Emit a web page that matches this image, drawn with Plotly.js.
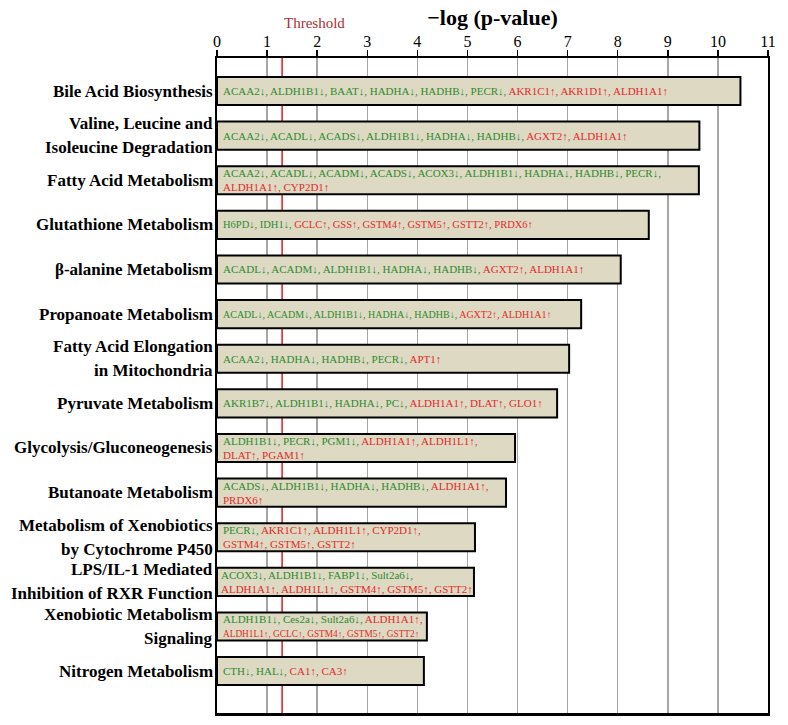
<!DOCTYPE html>
<html>
<head>
<meta charset="utf-8">
<script src="https://cdn.plot.ly/plotly-3.0.1.min.js"></script>
<style>
  body { margin: 0; background: #fff; }
  #chart { width: 788px; height: 725px; }
</style>
</head>
<body>
<div id="chart"></div>
<script>
let pathways = [
    "Bile Acid Biosynthesis",
    "Valine, Leucine and<br>Isoleucine Degradation",
    "Fatty Acid Metabolism",
    "Glutathione Metabolism",
    "β-alanine Metabolism",
    "Propanoate Metabolism",
    "Fatty Acid Elongation<br>in Mitochondria",
    "Pyruvate Metabolism",
    "Glycolysis/Gluconeogenesis",
    "Butanoate Metabolism",
    "Metabolism of Xenobiotics<br>by Cytochrome P450",
    "LPS/IL-1 Mediated<br>Inhibition of RXR Function",
    "Xenobiotic Metabolism<br>Signaling",
    "Nitrogen Metabolism"
];

let logP = [10.45, 9.63, 9.62, 8.62, 8.06, 7.27, 7.03, 6.79, 5.95, 5.77, 5.15, 5.13, 4.19, 4.13];

let genes = [
    ["ACAA2↓", "ALDH1B1↓", "BAAT↓", "HADHA↓", "HADHB↓", "PECR↓", "AKR1C1↑", "AKR1D1↑", "ALDH1A1↑"],
    ["ACAA2↓", "ACADL↓", "ACADS↓", "ALDH1B1↓", "HADHA↓", "HADHB↓", "AGXT2↑", "ALDH1A1↑"],
    ["ACAA2↓", "ACADL↓", "ACADM↓", "ACADS↓", "ACOX3↓", "ALDH1B1↓", "HADHA↓", "HADHB↓", "PECR↓", "ALDH1A1↑", "CYP2D1↑"],
    ["H6PD↓", "IDH1↓", "GCLC↑", "GSS↑", "GSTM4↑", "GSTM5↑", "GSTT2↑", "PRDX6↑"],
    ["ACADL↓", "ACADM↓", "ALDH1B1↓", "HADHA↓", "HADHB↓", "AGXT2↑", "ALDH1A1↑"],
    ["ACADL↓", "ACADM↓", "ALDH1B1↓", "HADHA↓", "HADHB↓", "AGXT2↑", "ALDH1A1↑"],
    ["ACAA2↓", "HADHA↓", "HADHB↓", "PECR↓", "APT1↑"],
    ["AKR1B7↓", "ALDH1B1↓", "HADHA↓", "PC↓", "ALDH1A1↑", "DLAT↑", "GLO1↑"],
    ["ALDH1B1↓", "PECR↓", "PGM1↓", "ALDH1A1↑", "ALDH1L1↑", "DLAT↑", "PGAM1↑"],
    ["ACADS↓", "ALDH1B1↓", "HADHA↓", "HADHB↓", "ALDH1A1↑", "PRDX6↑"],
    ["PECR↓", "AKR1C1↑", "ALDH1L1↑", "CYP2D1↑", "GSTM4↑", "GSTM5↑", "GSTT2↑"],
    ["ACOX3↓", "ALDH1B1↓", "FABP1↓", "Sult2a6↓", "ALDH1A1↑", "ALDH1L1↑", "GSTM4↑", "GSTM5↑", "GSTT2↑"],
    ["ALDH1B1↓", "Ces2a↓", "Sult2a6↓", "ALDH1A1↑", "ALDH1L1↑", "GCLC↑", "GSTM4↑", "GSTM5↑", "GSTT2↑"],
    ["CTH↓", "HAL↓", "CA1↑", "CA3↑"]
];

// gene count on the first line when the list wraps (0 = one line)
let wrapAfter = [0, 0, 9, 0, 0, 0, 0, 0, 5, 5, 4, 4, 4, 0];

let threshold = 1.3;

let serif = "Liberation Serif, Times New Roman, serif";
let green = "#2e8b2e";
let red = "#e32a2a";

// a few bars use a smaller type in the original
function geneFontSize(i) {
    if (i === 5) return 10;
    if (i === 3) return 10.5;
    return 11;
}

function geneLine(list, trailingComma, size) {
    return list.map(function (g, i) {
        let col = g.slice(-1) === "↑" ? red : green;
        let sep = (i < list.length - 1 || trailingComma) ? ", " : "";
        let st = "color:" + col + (size ? ";font-size:" + size + "px" : "");
        return '<span style="' + st + '">' + g + sep + '</span>';
    }).join("");
}

let annotations = [];
for (let i = 0; i < genes.length; i++) {
    let txt;
    if (wrapAfter[i] > 0) {
        let second = i === 12 ? 9.3 : null;
        txt = geneLine(genes[i].slice(0, wrapAfter[i]), true, null) + "<br>" +
              geneLine(genes[i].slice(wrapAfter[i]), false, second);
    } else {
        txt = geneLine(genes[i], false, null);
    }
    annotations.push({
        x: 0, y: i, xref: "x", yref: "y",
        text: txt, showarrow: false,
        xanchor: "left", yanchor: "middle", align: "left",
        xshift: i === 11 ? 2 : 4,
        font: {family: serif, size: geneFontSize(i), color: green}
    });

    // pathway names, one annotation per line so the line gap can match
    let lines = pathways[i].split("<br>");
    for (let k = 0; k < lines.length; k++) {
        annotations.push({
            x: 0, y: i, xref: "paper", yref: "y",
            text: lines[k], showarrow: false,
            xanchor: "right", yanchor: "middle", align: "right",
            xshift: -2,
            yshift: lines.length > 1 ? (k === 0 ? 12 : -12) : 0,
            font: {family: serif, size: 17, color: "#000", weight: "bold"}
        });
    }
}

annotations.push({
    x: threshold, y: 1, xref: "x", yref: "paper",
    text: "Threshold", showarrow: false,
    xanchor: "left", yanchor: "middle", yshift: 35,
    font: {family: serif, size: 15, color: "#a83232"}
});

let bars = {
    type: "bar",
    orientation: "h",
    x: logP,
    y: pathways,
    width: 0.63,
    marker: {color: "#ddd9c3", line: {color: "#000", width: 2}},
    hoverinfo: "x+y"
};

let layout = {
    width: 788,
    height: 725,
    margin: {l: 217, r: 20, t: 58, b: 12},
    paper_bgcolor: "#fff",
    plot_bgcolor: "#fff",
    showlegend: false,
    font: {family: serif, color: "#000"},
    xaxis: {
        side: "top",
        range: [0, 11],
        dtick: 1,
        tick0: 0,
        showgrid: true,
        gridcolor: "#a6a6a6",
        gridwidth: 1.5,
        zeroline: false,
        showline: true,
        linecolor: "#000",
        linewidth: 2.5,
        mirror: true,
        ticks: "outside",
        ticklen: 6,
        tickwidth: 1.5,
        tickcolor: "#000",
        ticklabelstandoff: -4,
        tickfont: {family: serif, size: 16, color: "#000"},
        title: {
            text: "<b>\u2212log (p-value)</b>",
            font: {family: serif, size: 22, color: "#000"},
            standoff: 2
        }
    },
    yaxis: {
        type: "category",
        range: [13.94, -0.74],
        showgrid: false,
        zeroline: false,
        showline: true,
        linecolor: "#000",
        linewidth: 2,
        mirror: true,
        ticks: "",
        showticklabels: false
    },
    shapes: [{
        type: "line",
        xref: "x", yref: "paper",
        x0: threshold, x1: threshold, y0: 0, y1: 1,
        line: {color: "#e01b1b", width: 1.5},
        layer: "below"
    }],
    annotations: annotations
};

Plotly.newPlot("chart", [bars], layout, {displayModeBar: false, staticPlot: true});
</script>
</body>
</html>
